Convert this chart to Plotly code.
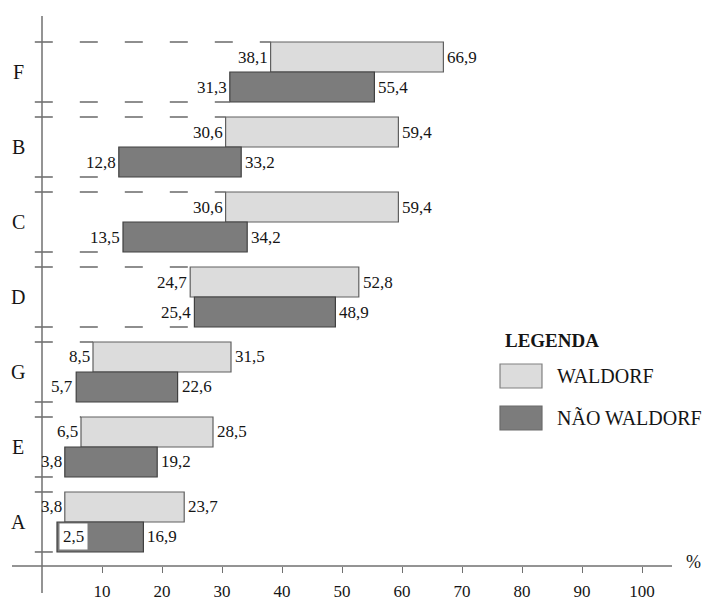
import plotly.graph_objects as go

# ---- data ----
categories = ["F", "B", "C", "D", "G", "E", "A"]
waldorf_low = [38.1, 30.6, 30.6, 24.7, 8.5, 6.5, 3.8]
waldorf_high = [66.9, 59.4, 59.4, 52.8, 31.5, 28.5, 23.7]
nao_low = [31.3, 12.8, 13.5, 25.4, 5.7, 3.8, 2.5]
nao_high = [55.4, 33.2, 34.2, 48.9, 22.6, 19.2, 16.9]
x_ticks = [10, 20, 30, 40, 50, 60, 70, 80, 90, 100]
series_names = ["WALDORF", "NÃO WALDORF"]
legend_title = "LEGENDA"
unit_label = "%"

LIGHT = "#dcdcdc"
DARK = "#7c7c7c"
FONT = "Liberation Serif, Times New Roman, serif"
TXT = "#151515"

def fmt(v):
    return f"{v:.1f}".replace(".", ",")

pos = list(range(len(categories)))
y_w = [p - 0.2 for p in pos]
y_n = [p + 0.2 for p in pos]

fig = go.Figure()
fig.add_bar(y=y_w, x=[h - l for l, h in zip(waldorf_low, waldorf_high)], base=waldorf_low,
            orientation="h", width=0.4, name=series_names[0], showlegend=False,
            marker=dict(color=LIGHT, line=dict(color="#606060", width=1.2)), hoverinfo="skip")
fig.add_bar(y=y_n, x=[h - l for l, h in zip(nao_low, nao_high)], base=nao_low,
            orientation="h", width=0.4, name=series_names[1], showlegend=False,
            marker=dict(color=DARK, line=dict(color="#404040", width=1.2)), hoverinfo="skip")

shapes = []
annotations = []
# dashed guide lines at the pair edges, from the axis to the bar start
for p, wl, nl in zip(pos, waldorf_low, nao_low):
    for yy, xl in ((p - 0.4, wl), (p + 0.4, nl)):
        shapes.append(dict(type="line", xref="x", yref="y", x0=-1.2, x1=xl, y0=yy, y1=yy,
                           line=dict(color="#6a6a6a", width=1.5, dash="18px,27px")))

# value labels
def add_labels(ys, lows, highs):
    for yy, lo, hi in zip(ys, lows, highs):
        if lo < 3:
            annotations.append(dict(x=lo, y=yy, xref="x", yref="y", text=fmt(lo), showarrow=False,
                                    xanchor="left", xshift=2, bgcolor="white", borderpad=3,
                                    font=dict(family=FONT, size=17, color=TXT)))
        else:
            annotations.append(dict(x=lo, y=yy, xref="x", yref="y", text=fmt(lo), showarrow=False,
                                    xanchor="right", xshift=-1,
                                    font=dict(family=FONT, size=17, color=TXT)))
        annotations.append(dict(x=hi, y=yy, xref="x", yref="y", text=fmt(hi), showarrow=False,
                                xanchor="left", xshift=2,
                                font=dict(family=FONT, size=17, color=TXT)))

add_labels(y_w, waldorf_low, waldorf_high)
add_labels(y_n, nao_low, nao_high)

# category labels
for p, c in zip(pos, categories):
    annotations.append(dict(x=-4, y=p, xref="x", yref="y", text=c, showarrow=False,
                            xanchor="center", font=dict(family=FONT, size=20, color=TXT)))

# axis lines
x0_paper = 5 / 110
shapes.append(dict(type="line", xref="paper", yref="paper", x0=x0_paper, x1=x0_paper, y0=-0.049, y1=1,
                   line=dict(color="#707070", width=1.5)))
shapes.append(dict(type="line", xref="paper", yref="paper", x0=0, x1=1, y0=0, y1=0,
                   line=dict(color="#707070", width=1.5)))
annotations.append(dict(x=1.032, y=0, xref="paper", yref="paper", text=unit_label, showarrow=False,
                        xanchor="center", yanchor="middle", yshift=4,
                        font=dict(family=FONT, size=18, color=TXT)))

# manual legend
annotations.append(dict(x=0.7439, y=0.4091, xref="paper", yref="paper", text="<b>" + legend_title + "</b>",
                        showarrow=False, xanchor="left", yanchor="middle",
                        font=dict(family=FONT, size=19, color=TXT)))
shapes.append(dict(type="rect", xref="paper", yref="paper", x0=0.7394, x1=0.8030, y0=0.3236, y1=0.3673,
                   fillcolor=LIGHT, line=dict(color="#808080", width=1.2)))
shapes.append(dict(type="rect", xref="paper", yref="paper", x0=0.7394, x1=0.8030, y0=0.2473, y1=0.2909,
                   fillcolor=DARK, line=dict(color="#6a6a6a", width=1.2)))
annotations.append(dict(x=0.8227, y=0.3455, xref="paper", yref="paper", text=series_names[0],
                        showarrow=False, xanchor="left", yanchor="middle",
                        font=dict(family=FONT, size=20, color=TXT)))
annotations.append(dict(x=0.8227, y=0.2691, xref="paper", yref="paper", text=series_names[1],
                        showarrow=False, xanchor="left", yanchor="middle",
                        font=dict(family=FONT, size=20, color=TXT)))

fig.update_layout(
    width=713, height=601,
    margin=dict(l=12, r=41, t=16, b=35, autoexpand=False),
    paper_bgcolor="white", plot_bgcolor="white",
    barmode="overlay",
    shapes=shapes, annotations=annotations,
    showlegend=False,
    xaxis=dict(range=[-5, 105], tickvals=x_ticks, ticks="outside", ticklen=6, tickcolor="#707070",
               tickwidth=1.2, showgrid=False, zeroline=False, showline=False, ticklabelstandoff=4,
               automargin=False, tickfont=dict(family=FONT, size=17, color=TXT)),
    yaxis=dict(range=[6.587, -0.747], showgrid=False, zeroline=False, showline=False,
               showticklabels=False, ticks="", automargin=False),
)

fig.write_html("out.html", config={"displayModeBar": False},
               post_script="document.body.style.margin='0';")
